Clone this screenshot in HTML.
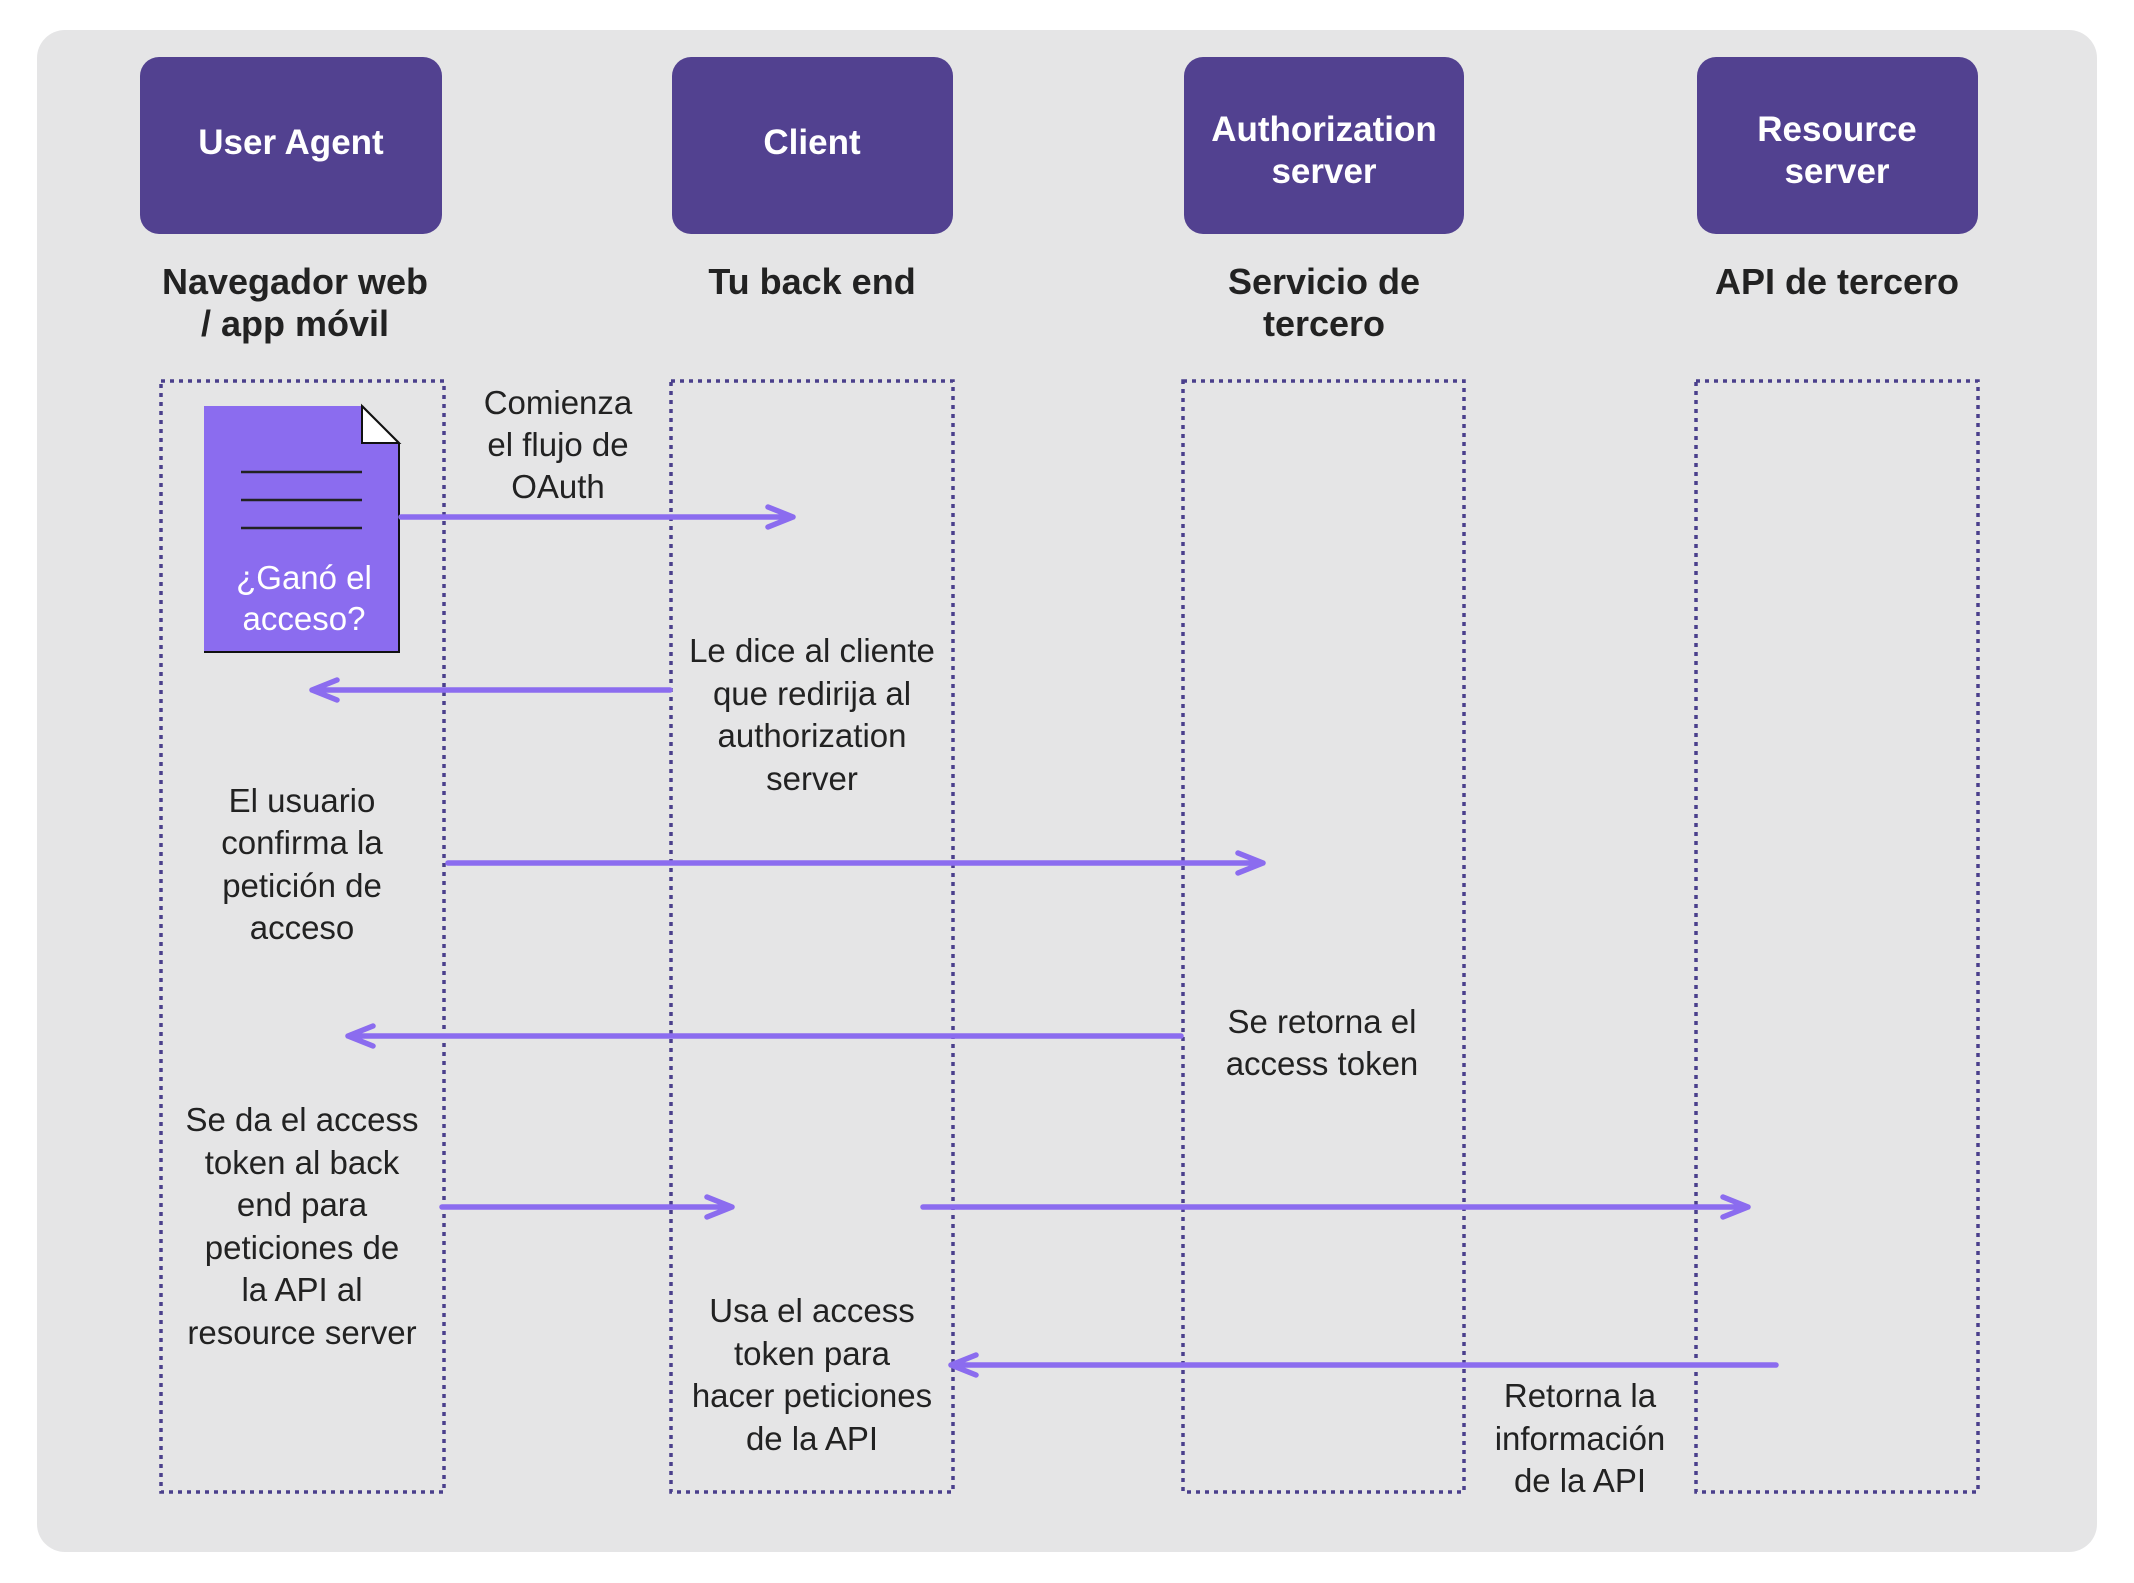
<!DOCTYPE html>
<html><head><meta charset="utf-8"><style>
html,body{margin:0;padding:0;background:#fff;}
svg{display:block;}
text{font-family:"Liberation Sans",sans-serif;}
.h{fill:#fff;font-weight:bold;font-size:35px;text-anchor:middle;}
.s{fill:#222;font-weight:bold;font-size:36px;text-anchor:middle;}
.t{fill:#222;font-size:33px;text-anchor:middle;}
.lane{fill:none;stroke:#4a3f8c;stroke-width:3.5;stroke-dasharray:4 5;}
.ar{stroke:#8b6cef;stroke-width:5.5;fill:none;stroke-linecap:round;stroke-linejoin:round;}
</style></head><body>
<svg width="2134" height="1583" viewBox="0 0 2134 1583">
<rect x="37" y="30" width="2060" height="1522" rx="28" fill="#e5e5e6"/>
<g fill="#524190">
<rect x="140" y="57" width="302" height="177" rx="19"/>
<rect x="672" y="57" width="281" height="177" rx="19"/>
<rect x="1184" y="57" width="280" height="177" rx="19"/>
<rect x="1697" y="57" width="281" height="177" rx="19"/>
</g>
<text class="h" x="291" y="154">User Agent</text>
<text class="h" x="812" y="154">Client</text>
<text class="h" x="1324" y="141">Authorization</text>
<text class="h" x="1324" y="183">server</text>
<text class="h" x="1837" y="141">Resource</text>
<text class="h" x="1837" y="183">server</text>
<text class="s" x="295" y="294">Navegador web</text>
<text class="s" x="295" y="336">/ app móvil</text>
<text class="s" x="812" y="294">Tu back end</text>
<text class="s" x="1324" y="294">Servicio de</text>
<text class="s" x="1324" y="336">tercero</text>
<text class="s" x="1837" y="294">API de tercero</text>
<rect class="lane" x="161" y="381" width="283" height="1111"/>
<rect class="lane" x="671" y="381" width="282" height="1111"/>
<rect class="lane" x="1183" y="381" width="281" height="1111"/>
<rect class="lane" x="1696" y="381" width="282" height="1111"/>
<path d="M204 406 H362 L399 443 V652 H204 Z" fill="#8b6cef"/>
<path d="M362 406 V443 H399 Z" fill="#fff" stroke="#111" stroke-width="2"/>
<path d="M362 406 L399 443 V652 H204" fill="none" stroke="#111" stroke-width="2"/>
<g stroke="#222" stroke-width="2.5"><line x1="241" y1="472" x2="362" y2="472"/><line x1="241" y1="500" x2="362" y2="500"/><line x1="241" y1="528" x2="362" y2="528"/></g>
<text class="t" x="304" y="589" style="fill:#fff">¿Ganó el</text>
<text class="t" x="304" y="630" style="fill:#fff">acceso?</text>
<path class="ar" d="M401 517 H793 M768 507 L793 517 L768 527"/>
<path class="ar" d="M670 690 H312 M337 680 L312 690 L337 700"/>
<path class="ar" d="M448 863 H1263 M1238 853 L1263 863 L1238 873"/>
<path class="ar" d="M1181 1036 H348 M373 1026 L348 1036 L373 1046"/>
<path class="ar" d="M442 1207 H732 M707 1197 L732 1207 L707 1217"/>
<path class="ar" d="M923 1207 H1748 M1723 1197 L1748 1207 L1723 1217"/>
<path class="ar" d="M1776 1365 H951 M976 1355 L951 1365 L976 1375"/>
<text class="t" x="558" y="414">Comienza</text><text class="t" x="558" y="456">el flujo de</text><text class="t" x="558" y="498">OAuth</text>
<text class="t" x="812" y="662">Le dice al cliente</text><text class="t" x="812" y="705">que redirija al</text><text class="t" x="812" y="747">authorization</text><text class="t" x="812" y="790">server</text>
<text class="t" x="302" y="812">El usuario</text><text class="t" x="302" y="854">confirma la</text><text class="t" x="302" y="897">petición de</text><text class="t" x="302" y="939">acceso</text>
<text class="t" x="1322" y="1033">Se retorna el</text><text class="t" x="1322" y="1075">access token</text>
<text class="t" x="302" y="1131">Se da el access</text><text class="t" x="302" y="1174">token al back</text><text class="t" x="302" y="1216">end para</text><text class="t" x="302" y="1259">peticiones de</text><text class="t" x="302" y="1301">la API al</text><text class="t" x="302" y="1344">resource server</text>
<text class="t" x="812" y="1322">Usa el access</text><text class="t" x="812" y="1365">token para</text><text class="t" x="812" y="1407">hacer peticiones</text><text class="t" x="812" y="1450">de la API</text>
<text class="t" x="1580" y="1407">Retorna la</text><text class="t" x="1580" y="1450">información</text><text class="t" x="1580" y="1492">de la API</text>
</svg>
</body></html>
